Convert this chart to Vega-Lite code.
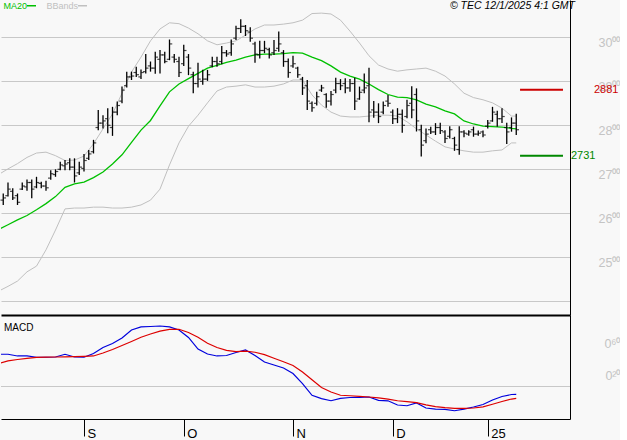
{
  "$schema": "https://vega.github.io/schema/vega-lite/v6.json",
  "background": "#f8f8f8",
  "padding": 0,
  "spacing": 0,
  "bounds": "flush",
  "config": {"view": {"stroke": null}, "font": "Liberation Sans"},
  "datasets": {
    "bars": [
      {"t":-17,"o":26.30,"h":26.45,"l":26.19,"c":26.35},
      {"t":-16,"o":26.40,"h":26.70,"l":26.38,"c":26.55},
      {"t":-15,"o":26.50,"h":26.57,"l":26.30,"c":26.35},
      {"t":-14,"o":26.40,"h":26.45,"l":26.19,"c":26.25},
      {"t":-13,"o":26.55,"h":26.70,"l":26.53,"c":26.62},
      {"t":-12,"o":26.60,"h":26.77,"l":26.51,"c":26.70},
      {"t":-11,"o":26.70,"h":26.77,"l":26.34,"c":26.55},
      {"t":-10,"o":26.60,"h":26.83,"l":26.57,"c":26.70},
      {"t":-9,"o":26.68,"h":26.72,"l":26.57,"c":26.62},
      {"t":-8,"o":26.62,"h":26.74,"l":26.51,"c":26.58},
      {"t":-7,"o":26.80,"h":26.98,"l":26.76,"c":26.90},
      {"t":-6,"o":26.88,"h":27.00,"l":26.83,"c":26.95},
      {"t":-5,"o":27.00,"h":27.17,"l":26.98,"c":27.10},
      {"t":-4,"o":27.08,"h":27.21,"l":26.98,"c":27.12},
      {"t":-3,"o":27.15,"h":27.25,"l":26.98,"c":27.05},
      {"t":-2,"o":27.05,"h":27.25,"l":26.70,"c":26.85},
      {"t":-1,"o":26.92,"h":27.17,"l":26.87,"c":27.05},
      {"t":0,"o":27.02,"h":27.35,"l":26.95,"c":27.20},
      {"t":1,"o":27.25,"h":27.44,"l":27.21,"c":27.35},
      {"t":2,"o":27.40,"h":27.67,"l":27.36,"c":27.60},
      {"t":3,"o":27.95,"h":28.35,"l":27.89,"c":28.05},
      {"t":4,"o":28.05,"h":28.23,"l":27.93,"c":28.10},
      {"t":5,"o":28.15,"h":28.39,"l":27.82,"c":28.00},
      {"t":6,"o":27.95,"h":28.42,"l":27.76,"c":28.30},
      {"t":7,"o":28.30,"h":28.54,"l":28.23,"c":28.45},
      {"t":8,"o":28.55,"h":28.88,"l":28.50,"c":28.80},
      {"t":9,"o":28.90,"h":29.22,"l":28.86,"c":29.10},
      {"t":10,"o":29.10,"h":29.22,"l":29.03,"c":29.12},
      {"t":11,"o":29.20,"h":29.33,"l":29.10,"c":29.15},
      {"t":12,"o":29.10,"h":29.27,"l":29.05,"c":29.20},
      {"t":13,"o":29.22,"h":29.62,"l":29.18,"c":29.30},
      {"t":14,"o":29.35,"h":29.45,"l":29.22,"c":29.30},
      {"t":15,"o":29.30,"h":29.67,"l":29.17,"c":29.55},
      {"t":16,"o":29.50,"h":29.71,"l":29.18,"c":29.60},
      {"t":17,"o":29.60,"h":29.67,"l":29.41,"c":29.45},
      {"t":18,"o":29.50,"h":29.95,"l":29.48,"c":29.85},
      {"t":19,"o":29.55,"h":29.62,"l":29.42,"c":29.50},
      {"t":20,"o":29.45,"h":29.56,"l":29.10,"c":29.20},
      {"t":21,"o":29.40,"h":29.83,"l":29.35,"c":29.70},
      {"t":22,"o":29.55,"h":29.62,"l":29.14,"c":29.30},
      {"t":23,"o":29.15,"h":29.22,"l":28.73,"c":28.95},
      {"t":24,"o":28.95,"h":29.42,"l":28.86,"c":29.05},
      {"t":25,"o":29.00,"h":29.26,"l":28.92,"c":29.05},
      {"t":26,"o":29.05,"h":29.26,"l":29.01,"c":29.15},
      {"t":27,"o":29.35,"h":29.56,"l":29.32,"c":29.45},
      {"t":28,"o":29.45,"h":29.56,"l":29.33,"c":29.40},
      {"t":29,"o":29.45,"h":29.80,"l":29.39,"c":29.65},
      {"t":30,"o":29.65,"h":29.71,"l":29.56,"c":29.62},
      {"t":31,"o":29.65,"h":29.95,"l":29.58,"c":29.85},
      {"t":32,"o":29.98,"h":30.26,"l":29.94,"c":30.20},
      {"t":33,"o":30.20,"h":30.41,"l":30.10,"c":30.25},
      {"t":34,"o":30.25,"h":30.28,"l":30.03,"c":30.15},
      {"t":35,"o":30.12,"h":30.23,"l":29.90,"c":29.98},
      {"t":36,"o":29.85,"h":29.90,"l":29.42,"c":29.62},
      {"t":37,"o":29.60,"h":29.92,"l":29.52,"c":29.70},
      {"t":38,"o":29.70,"h":29.92,"l":29.64,"c":29.75},
      {"t":39,"o":29.72,"h":29.76,"l":29.52,"c":29.60},
      {"t":40,"o":29.65,"h":29.94,"l":29.60,"c":29.70},
      {"t":41,"o":29.75,"h":30.13,"l":29.67,"c":29.85},
      {"t":42,"o":29.65,"h":29.71,"l":29.33,"c":29.45},
      {"t":43,"o":29.45,"h":29.52,"l":29.08,"c":29.20},
      {"t":44,"o":29.35,"h":29.58,"l":29.31,"c":29.40},
      {"t":45,"o":29.30,"h":29.33,"l":29.08,"c":29.15},
      {"t":46,"o":29.05,"h":29.10,"l":28.69,"c":28.85},
      {"t":47,"o":28.90,"h":29.03,"l":28.35,"c":28.55},
      {"t":48,"o":28.50,"h":28.54,"l":28.31,"c":28.40},
      {"t":49,"o":28.50,"h":28.76,"l":28.45,"c":28.65},
      {"t":50,"o":28.80,"h":28.92,"l":28.76,"c":28.85},
      {"t":51,"o":28.70,"h":28.73,"l":28.40,"c":28.55},
      {"t":52,"o":28.55,"h":28.78,"l":28.45,"c":28.70},
      {"t":53,"o":28.80,"h":29.08,"l":28.73,"c":28.95},
      {"t":54,"o":28.95,"h":29.05,"l":28.80,"c":28.90},
      {"t":55,"o":28.95,"h":29.07,"l":28.73,"c":28.85},
      {"t":56,"o":28.85,"h":29.05,"l":28.76,"c":28.95},
      {"t":57,"o":28.95,"h":29.08,"l":28.35,"c":28.55},
      {"t":58,"o":28.60,"h":28.88,"l":28.58,"c":28.75},
      {"t":59,"o":28.80,"h":29.18,"l":28.73,"c":28.85},
      {"t":60,"o":28.90,"h":29.31,"l":28.07,"c":28.30},
      {"t":61,"o":28.35,"h":28.55,"l":28.17,"c":28.30},
      {"t":62,"o":28.30,"h":28.50,"l":28.05,"c":28.20},
      {"t":63,"o":28.30,"h":28.54,"l":28.25,"c":28.45},
      {"t":64,"o":28.55,"h":28.69,"l":28.42,"c":28.50},
      {"t":65,"o":28.30,"h":28.36,"l":28.03,"c":28.15},
      {"t":66,"o":28.15,"h":28.39,"l":28.05,"c":28.25},
      {"t":67,"o":28.25,"h":28.36,"l":27.83,"c":28.00},
      {"t":68,"o":28.20,"h":28.58,"l":28.16,"c":28.45},
      {"t":69,"o":28.50,"h":28.89,"l":28.16,"c":28.35},
      {"t":70,"o":28.70,"h":28.84,"l":27.86,"c":28.10},
      {"t":71,"o":27.90,"h":28.01,"l":27.29,"c":27.55},
      {"t":72,"o":27.65,"h":27.93,"l":27.59,"c":27.80},
      {"t":73,"o":27.90,"h":27.97,"l":27.80,"c":27.85},
      {"t":74,"o":27.85,"h":28.05,"l":27.78,"c":27.95},
      {"t":75,"o":27.95,"h":28.06,"l":27.80,"c":27.88},
      {"t":76,"o":27.85,"h":27.89,"l":27.60,"c":27.70},
      {"t":77,"o":27.75,"h":27.98,"l":27.70,"c":27.90},
      {"t":78,"o":27.70,"h":27.74,"l":27.42,"c":27.55},
      {"t":79,"o":27.45,"h":27.98,"l":27.33,"c":27.85},
      {"t":80,"o":27.85,"h":27.89,"l":27.73,"c":27.82},
      {"t":81,"o":27.80,"h":27.89,"l":27.76,"c":27.85},
      {"t":82,"o":27.90,"h":27.97,"l":27.74,"c":27.80},
      {"t":83,"o":27.80,"h":27.88,"l":27.76,"c":27.82},
      {"t":84,"o":27.85,"h":27.88,"l":27.73,"c":27.78},
      {"t":85,"o":27.98,"h":28.12,"l":27.93,"c":28.05},
      {"t":86,"o":28.10,"h":28.42,"l":28.08,"c":28.30},
      {"t":87,"o":28.25,"h":28.33,"l":27.97,"c":28.15},
      {"t":88,"o":28.15,"h":28.39,"l":28.05,"c":28.20},
      {"t":89,"o":27.95,"h":28.06,"l":27.575,"c":27.85},
      {"t":90,"o":27.95,"h":28.18,"l":27.855,"c":28.05},
      {"t":91,"o":28.05,"h":28.26,"l":27.78,"c":27.90}
    ],
    "lines": [
      {"t":-18,"ma":25.63,"bu":26.88,"bl":24.23,"m":0.399,"s":0.285},
      {"t":-16,"ma":25.74,"bu":27.01,"bl":24.34,"m":0.399,"s":0.318},
      {"t":-14,"ma":25.85,"bu":27.13,"bl":24.46,"m":0.378,"s":0.334},
      {"t":-12,"ma":25.95,"bu":27.27,"bl":24.67,"m":0.378,"s":0.348},
      {"t":-10,"ma":26.08,"bu":27.37,"bl":24.80,"m":0.362,"s":0.360},
      {"t":-8,"ma":26.22,"bu":27.39,"bl":25.17,"m":0.362,"s":0.363},
      {"t":-6,"ma":26.38,"bu":27.31,"bl":25.62,"m":0.365,"s":0.365},
      {"t":-4,"ma":26.59,"bu":27.20,"bl":26.10,"m":0.399,"s":0.368},
      {"t":-2,"ma":26.67,"bu":27.21,"bl":26.12,"m":0.365,"s":0.370},
      {"t":0,"ma":26.71,"bu":27.30,"bl":26.12,"m":0.362,"s":0.374},
      {"t":2,"ma":26.81,"bu":27.58,"bl":26.14,"m":0.409,"s":0.378},
      {"t":4,"ma":26.94,"bu":27.92,"bl":26.14,"m":0.483,"s":0.415},
      {"t":6,"ma":27.12,"bu":28.26,"bl":26.12,"m":0.533,"s":0.458},
      {"t":8,"ma":27.33,"bu":28.73,"bl":26.12,"m":0.601,"s":0.508},
      {"t":10,"ma":27.61,"bu":29.21,"bl":26.14,"m":0.700,"s":0.557},
      {"t":12,"ma":27.89,"bu":29.55,"bl":26.19,"m":0.737,"s":0.609},
      {"t":14,"ma":28.11,"bu":29.92,"bl":26.30,"m":0.743,"s":0.650},
      {"t":16,"ma":28.44,"bu":30.19,"bl":26.55,"m":0.749,"s":0.685},
      {"t":18,"ma":28.76,"bu":30.33,"bl":27.10,"m":0.737,"s":0.706},
      {"t":20,"ma":28.94,"bu":30.31,"bl":27.60,"m":0.700,"s":0.708},
      {"t":22,"ma":29.06,"bu":30.21,"bl":27.98,"m":0.607,"s":0.669},
      {"t":24,"ma":29.18,"bu":30.08,"bl":28.23,"m":0.464,"s":0.609},
      {"t":26,"ma":29.30,"bu":29.92,"bl":28.51,"m":0.402,"s":0.536},
      {"t":28,"ma":29.36,"bu":29.83,"bl":28.78,"m":0.378,"s":0.483},
      {"t":30,"ma":29.43,"bu":29.87,"bl":28.87,"m":0.384,"s":0.448},
      {"t":32,"ma":29.48,"bu":29.92,"bl":28.89,"m":0.421,"s":0.432},
      {"t":34,"ma":29.55,"bu":30.05,"bl":28.92,"m":0.452,"s":0.438},
      {"t":36,"ma":29.60,"bu":30.19,"bl":28.87,"m":0.384,"s":0.424},
      {"t":38,"ma":29.62,"bu":30.28,"bl":28.87,"m":0.303,"s":0.395},
      {"t":40,"ma":29.62,"bu":30.28,"bl":28.89,"m":0.266,"s":0.350},
      {"t":42,"ma":29.63,"bu":30.30,"bl":28.94,"m":0.229,"s":0.307},
      {"t":44,"ma":29.65,"bu":30.33,"bl":29.03,"m":0.161,"s":0.260},
      {"t":46,"ma":29.64,"bu":30.39,"bl":29.03,"m":0.037,"s":0.180},
      {"t":48,"ma":29.55,"bu":30.54,"bl":28.69,"m":-0.109,"s":0.083},
      {"t":50,"ma":29.47,"bu":30.55,"bl":28.46,"m":-0.149,"s":-0.012},
      {"t":52,"ma":29.35,"bu":30.53,"bl":28.30,"m":-0.176,"s":-0.068},
      {"t":54,"ma":29.21,"bu":30.39,"bl":28.21,"m":-0.146,"s":-0.108},
      {"t":56,"ma":29.12,"bu":30.14,"bl":28.19,"m":-0.136,"s":-0.114},
      {"t":58,"ma":29.05,"bu":29.87,"bl":28.19,"m":-0.134,"s":-0.123},
      {"t":60,"ma":28.94,"bu":29.58,"bl":28.21,"m":-0.130,"s":-0.130},
      {"t":62,"ma":28.81,"bu":29.37,"bl":28.23,"m":-0.171,"s":-0.140},
      {"t":64,"ma":28.70,"bu":29.28,"bl":28.23,"m":-0.177,"s":-0.155},
      {"t":66,"ma":28.64,"bu":29.23,"bl":28.21,"m":-0.229,"s":-0.176},
      {"t":68,"ma":28.63,"bu":29.26,"bl":28.08,"m":-0.238,"s":-0.188},
      {"t":70,"ma":28.58,"bu":29.28,"bl":27.92,"m":-0.204,"s":-0.199},
      {"t":72,"ma":28.48,"bu":29.30,"bl":27.78,"m":-0.266,"s":-0.227},
      {"t":74,"ma":28.42,"bu":29.23,"bl":27.64,"m":-0.279,"s":-0.248},
      {"t":76,"ma":28.33,"bu":29.12,"bl":27.51,"m":-0.282,"s":-0.261},
      {"t":78,"ma":28.26,"bu":28.94,"bl":27.46,"m":-0.300,"s":-0.270},
      {"t":80,"ma":28.10,"bu":28.73,"bl":27.42,"m":-0.279,"s":-0.270},
      {"t":82,"ma":28.03,"bu":28.63,"bl":27.39,"m":-0.254,"s":-0.266},
      {"t":84,"ma":27.98,"bu":28.58,"bl":27.39,"m":-0.223,"s":-0.251},
      {"t":86,"ma":27.97,"bu":28.51,"bl":27.42,"m":-0.167,"s":-0.219},
      {"t":88,"ma":27.96,"bu":28.39,"bl":27.44,"m":-0.124,"s":-0.185},
      {"t":90,"ma":27.93,"bu":28.21,"bl":27.60,"m":-0.099,"s":-0.155},
      {"t":91,"ma":27.92,"bu":28.21,"bl":27.60,"m":-0.097,"s":-0.146}
    ],
    "levels": [
      {"kind":"resistance","value":28.81,"from":91.8,"to":100.84,"label":"2881"},
      {"kind":"support","value":27.31,"from":91.8,"to":100.84,"label":"2731"}
    ]
  },
  "vconcat": [
    {
      "width": 569,
      "height": 315,
      "title": {"text": "© TEC 12/1/2025 4:1 GMT", "anchor": "end", "frame": "group", "fontStyle": "italic", "fontWeight": "normal", "fontSize": 10.5, "color": "black", "offset": -19, "baseline": "alphabetic", "dx": 5},
      "layer": [
        {
          "data": {"name": "lines"},
          "mark": {"type": "line", "clip": true, "strokeWidth": 1},
          "encoding": {
            "x": {"field": "t", "type": "quantitative", "scale": {"domain": [-17.474, 102.316], "nice": false, "zero": false}, "axis": {"domainColor": "black", "domainWidth": 2, "ticks": false, "labels": false, "grid": false, "title": null}},
            "y": {"field": "bu", "type": "quantitative", "scale": {"domain": [23.689, 30.848], "nice": false, "zero": false},
              "axis": {"orient": "right", "values": [24, 25, 26, 27, 28, 29, 30], "grid": true, "gridColor": "#c8c8c8", "gridWidth": 1, "ticks": false, "domain": true, "domainColor": "black", "domainWidth": 1, "labelExpr": "datum.value < 25 ? '' : datum.value + '⁰⁰'", "labelColor": "#c4c4c4", "labelFontSize": 12.5, "labelAlign": "right", "labelPadding": 50, "labelBaseline": "alphabetic", "labelOffset": 9, "title": null}},
            "color": {"datum": "BBands", "scale": {"domain": ["MA20", "BBands"], "range": ["#00c000", "#c0c0c0"]},
              "legend": {"orient": "top-left", "direction": "horizontal", "title": null, "symbolType": "stroke", "symbolSize": 81, "symbolStrokeWidth": 1.5, "labelFontSize": 9, "labelAlign": "right", "labelOffset": -10, "symbolOffset": 25, "offset": 0, "padding": 0, "columnPadding": 7, "labelBaseline": "middle",
                "encode": {"labels": {"update": {"fill": {"scale": "color", "field": "value"}}}}}}
          }
        },
        {
          "data": {"name": "lines"},
          "mark": {"type": "line", "clip": true, "strokeWidth": 1},
          "encoding": {
            "x": {"field": "t", "type": "quantitative"},
            "y": {"field": "bl", "type": "quantitative", "title": null},
            "color": {"datum": "BBands"}
          }
        },
        {
          "data": {"name": "lines"},
          "mark": {"type": "line", "clip": true, "strokeWidth": 1.3},
          "encoding": {
            "x": {"field": "t", "type": "quantitative"},
            "y": {"field": "ma", "type": "quantitative", "title": null},
            "color": {"datum": "MA20"}
          }
        },
        {
          "data": {"name": "bars"},
          "mark": {"type": "rule", "color": "black", "strokeWidth": 1.3},
          "encoding": {
            "x": {"field": "t", "type": "quantitative"},
            "y": {"field": "l", "type": "quantitative", "title": null},
            "y2": {"field": "h"}
          }
        },
        {
          "data": {"name": "bars"},
          "mark": {"type": "tick", "orient": "horizontal", "color": "black", "size": 2.5, "thickness": 1.2, "xOffset": -1.5},
          "encoding": {
            "x": {"field": "t", "type": "quantitative"},
            "y": {"field": "o", "type": "quantitative", "title": null}
          }
        },
        {
          "data": {"name": "bars"},
          "mark": {"type": "tick", "orient": "horizontal", "color": "black", "size": 2.5, "thickness": 1.2, "xOffset": 1.5},
          "encoding": {
            "x": {"field": "t", "type": "quantitative"},
            "y": {"field": "c", "type": "quantitative", "title": null}
          }
        },
        {
          "data": {"name": "levels"},
          "transform": [{"filter": "datum.kind == 'resistance'"}],
          "mark": {"type": "rule", "color": "#cc0000", "strokeWidth": 2},
          "encoding": {
            "x": {"field": "from", "type": "quantitative"},
            "x2": {"field": "to"},
            "y": {"field": "value", "type": "quantitative", "title": null}
          }
        },
        {
          "data": {"name": "levels"},
          "transform": [{"filter": "datum.kind == 'resistance'"}],
          "mark": {"type": "text", "color": "#cc0000", "align": "left", "baseline": "middle", "dx": 31, "fontSize": 11},
          "encoding": {
            "x": {"field": "to", "type": "quantitative"},
            "y": {"field": "value", "type": "quantitative", "title": null},
            "text": {"field": "label"}
          }
        },
        {
          "data": {"name": "levels"},
          "transform": [{"filter": "datum.kind == 'support'"}],
          "mark": {"type": "rule", "color": "#008800", "strokeWidth": 2},
          "encoding": {
            "x": {"field": "from", "type": "quantitative"},
            "x2": {"field": "to"},
            "y": {"field": "value", "type": "quantitative", "title": null}
          }
        },
        {
          "data": {"name": "levels"},
          "transform": [{"filter": "datum.kind == 'support'"}],
          "mark": {"type": "text", "color": "#008800", "align": "left", "baseline": "middle", "dx": 8, "fontSize": 11},
          "encoding": {
            "x": {"field": "to", "type": "quantitative"},
            "y": {"field": "value", "type": "quantitative", "title": null},
            "text": {"field": "label"}
          }
        }
      ]
    },
    {
      "width": 569,
      "height": 104,
      "title": {"text": "MACD", "anchor": "start", "frame": "group", "fontSize": 10, "fontWeight": "normal", "color": "black", "offset": -26, "baseline": "alphabetic", "dx": 3},
      "layer": [
        {
          "data": {"values": [{}]},
          "mark": {"type": "rule", "color": "#c8c8c8", "strokeWidth": 1},
          "encoding": {
            "y": {"datum": 0, "type": "quantitative", "scale": {"domain": [-0.402, 0.885], "nice": false, "zero": false},
              "axis": {"orient": "right", "values": [0.2, 0.6], "labelExpr": "datum.value < 0.4 ? '0²⁰' : '0⁶⁰'", "grid": false, "ticks": false, "domain": true, "domainColor": "black", "domainWidth": 1, "labelColor": "#c4c4c4", "labelFontSize": 12.5, "labelAlign": "right", "labelPadding": 50, "labelBaseline": "alphabetic", "labelOffset": 9, "title": null}}
          }
        },
        {
          "data": {"name": "lines"},
          "mark": {"type": "line", "color": "#0000dd", "strokeWidth": 1.2, "clip": true},
          "encoding": {
            "x": {"field": "t", "type": "quantitative", "scale": {"domain": [-17.474, 102.316], "nice": false, "zero": false},
              "axis": {"values": [0, 21, 44, 65, 85], "labelExpr": "['S','O','N','D','25'][indexof([0,21,44,65,85], datum.value)]", "grid": false, "ticks": true, "tickSize": 17, "tickColor": "black", "tickWidth": 1, "domainColor": "black", "domainWidth": 1, "labelColor": "black", "labelFontSize": 13, "labelAlign": "left", "labelOffset": 3, "labelPadding": 1, "labelBaseline": "alphabetic", "labelFlush": false, "labelOverlap": false, "title": null}},
            "y": {"field": "m", "type": "quantitative", "title": null}
          }
        },
        {
          "data": {"name": "lines"},
          "mark": {"type": "line", "color": "#dd0000", "strokeWidth": 1.2, "clip": true},
          "encoding": {
            "x": {"field": "t", "type": "quantitative"},
            "y": {"field": "s", "type": "quantitative", "title": null}
          }
        }
      ]
    }
  ]
}
